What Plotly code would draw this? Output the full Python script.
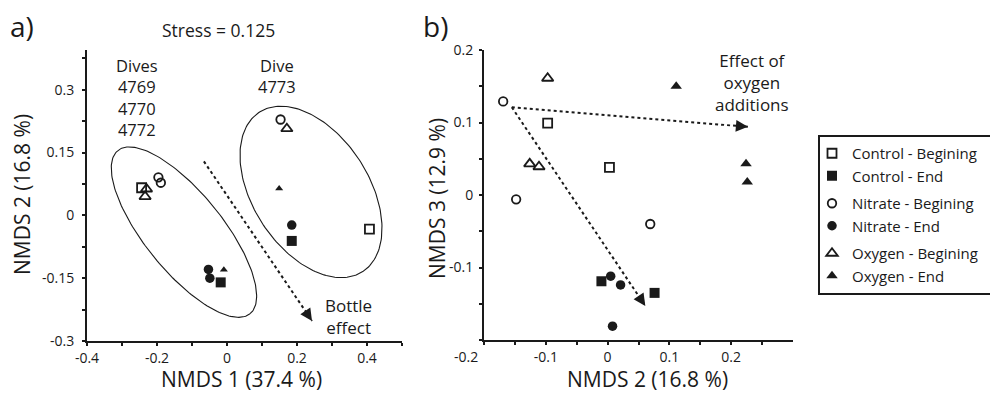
import numpy as np
import plotly.graph_objects as go

W, H = 990, 394
FONT = "Open Sans"
INK = "#1a1a1a"

# ---------------- data ----------------
series_names = ["Control - Begining", "Control - End", "Nitrate - Begining",
                "Nitrate - End", "Oxygen - Begining", "Oxygen - End"]
groups = ["control", "control", "nitrate", "nitrate", "oxygen", "oxygen"]

# Panel a : NMDS 1 (x) vs NMDS 2 (y)
a_ctrl_beg_x = [-0.244, 0.407]
a_ctrl_beg_y = [0.066, -0.033]
a_ctrl_end_x = [-0.018, 0.185]
a_ctrl_end_y = [-0.160, -0.061]
a_nit_beg_x = [-0.196, -0.189, 0.153]
a_nit_beg_y = [0.091, 0.078, 0.229]
a_nit_end_x = [-0.053, -0.049, 0.185]
a_nit_end_y = [-0.129, -0.150, -0.023]
a_oxy_beg_x = [-0.230, -0.234, 0.171]
a_oxy_beg_y = [0.063, 0.045, 0.207]
a_oxy_end_x = [-0.009, 0.149]
a_oxy_end_y = [-0.130, 0.064]

# Panel b : NMDS 2 (x) vs NMDS 3 (y)
b_ctrl_beg_x = [-0.097, 0.003]
b_ctrl_beg_y = [0.099, 0.038]
b_ctrl_end_x = [-0.010, 0.076]
b_ctrl_end_y = [-0.119, -0.135]
b_nit_beg_x = [-0.169, -0.148, 0.069]
b_nit_beg_y = [0.129, -0.006, -0.040]
b_nit_end_x = [0.005, 0.021, 0.008]
b_nit_end_y = [-0.112, -0.124, -0.181]
b_oxy_beg_x = [-0.097, -0.126, -0.111]
b_oxy_beg_y = [0.161, 0.043, 0.039]
b_oxy_end_x = [0.111, 0.224, 0.226]
b_oxy_end_y = [0.150, 0.043, 0.018]

# Arrows (tail, head) in data units
a_arrow_x = [-0.066, 0.243]
a_arrow_y = [0.129, -0.252]
b_arrow1_x = [-0.155, 0.227]
b_arrow1_y = [0.121, 0.094]
b_arrow2_x = [-0.155, 0.061]
b_arrow2_y = [0.121, -0.153]

# Ellipses: centre (data), semi-axes (px), tilt (deg, clockwise on screen)
ell_left = dict(cx=-0.123, cy=-0.040, a=105, b=39, ang=51)
ell_right = dict(cx=0.240, cy=0.056, a=95, b=58, ang=57)

# Axis ticks
a_x_ticks = [-0.4, -0.3, -0.2, -0.1, 0.0, 0.1, 0.2, 0.3, 0.4, 0.5]
a_x_text = ["-0.4", "", "-0.2", "", "0", "", "0.2", "", "0.4", ""]
a_y_ticks = [-0.3, -0.225, -0.15, -0.075, 0.0, 0.075, 0.15, 0.225, 0.3, 0.375]
a_y_text = ["-0.3", "", "-0.15", "", "0", "", "0.15", "", "0.3", ""]
b_x_ticks = [-0.2, -0.15, -0.1, -0.05, 0.0, 0.05, 0.1, 0.15, 0.2, 0.25]
b_x_text = ["", "", "-0.1", "", "0", "", "0.1", "", "0.2", ""]
b_y_ticks = [-0.2, -0.15, -0.1, -0.05, 0.0, 0.05, 0.1, 0.15, 0.2]
b_y_text = ["", "", "-0.1", "", "0", "", "0.1", "", "0.2"]

# ---------------- geometry ----------------
A_X = (87, 402); A_Y = (50, 341)
B_X = (484, 793); B_Y = (50, 340)
A_XR = [-0.4, 0.5]; A_YR = [-0.3, 0.395]
B_XR = [-0.2, 0.3]; B_YR = [-0.2, 0.2]

def px(x):
    return x / W

def py(y):
    return 1 - y / H

ppu_ax = (A_X[1] - A_X[0]) / (A_XR[1] - A_XR[0])
ppu_ay = (A_Y[1] - A_Y[0]) / (A_YR[1] - A_YR[0])
ppu_bx = (B_X[1] - B_X[0]) / (B_XR[1] - B_XR[0])
ppu_by = (B_Y[1] - B_Y[0]) / (B_YR[1] - B_YR[0])

fig = go.Figure()

styles = [
    dict(symbol="square-open", size=9, line=dict(width=1.8, color=INK), color=INK),
    dict(symbol="square", size=10, color=INK),
    dict(symbol="circle-open", size=8.5, line=dict(width=1.8, color=INK), color=INK),
    dict(symbol="circle", size=9.5, color=INK),
    dict(symbol="triangle-up-open", size=10, line=dict(width=1.8, color=INK), color=INK),
    dict(symbol="triangle-up", size=10, color=INK),
]

a_sets = [(a_ctrl_beg_x, a_ctrl_beg_y), (a_ctrl_end_x, a_ctrl_end_y),
          (a_nit_beg_x, a_nit_beg_y), (a_nit_end_x, a_nit_end_y),
          (a_oxy_beg_x, a_oxy_beg_y), (a_oxy_end_x, a_oxy_end_y)]
b_sets = [(b_ctrl_beg_x, b_ctrl_beg_y), (b_ctrl_end_x, b_ctrl_end_y),
          (b_nit_beg_x, b_nit_beg_y), (b_nit_end_x, b_nit_end_y),
          (b_oxy_beg_x, b_oxy_beg_y), (b_oxy_end_x, b_oxy_end_y)]

# Ellipses (panel a)
def ellipse(e):
    t = np.linspace(0, 2 * np.pi, 200)
    th = np.radians(e["ang"])
    ex = e["a"] * np.cos(t)
    ey = e["b"] * np.sin(t)
    sx = ex * np.cos(th) - ey * np.sin(th)
    sy = ex * np.sin(th) + ey * np.cos(th)  # screen-down
    return e["cx"] + sx / ppu_ax, e["cy"] - sy / ppu_ay

for e in (ell_left, ell_right):
    ex, ey = ellipse(e)
    fig.add_trace(go.Scatter(x=ex, y=ey, mode="lines", line=dict(color=INK, width=1.1),
                             xaxis="x", yaxis="y", showlegend=False, hoverinfo="skip"))

# Dotted arrow shafts
for (xs, ys, xa, ya) in [(a_arrow_x, a_arrow_y, "x", "y"),
                         (b_arrow1_x, b_arrow1_y, "x2", "y2"),
                         (b_arrow2_x, b_arrow2_y, "x2", "y2")]:
    fig.add_trace(go.Scatter(x=xs, y=ys, mode="lines",
                             line=dict(color=INK, width=2, dash="dot"),
                             xaxis=xa, yaxis=ya, showlegend=False, hoverinfo="skip"))

for i, (xs, ys) in enumerate(a_sets):
    st = dict(styles[i])
    if i == 5:
        st["size"] = 7
    fig.add_trace(go.Scatter(x=xs, y=ys, mode="markers", marker=st, name=series_names[i],
                             legendgroup=groups[i], showlegend=False, xaxis="x", yaxis="y"))
for i, (xs, ys) in enumerate(b_sets):
    fig.add_trace(go.Scatter(x=xs, y=ys, mode="markers", marker=styles[i], name=series_names[i],
                             legendgroup=groups[i], showlegend=True, xaxis="x2", yaxis="y2"))

# Arrow heads via annotations
annotations = []
for (xs, ys, xr, yr, sx, sy) in [(a_arrow_x, a_arrow_y, "x", "y", ppu_ax, ppu_ay),
                                 (b_arrow1_x, b_arrow1_y, "x2", "y2", ppu_bx, ppu_by),
                                 (b_arrow2_x, b_arrow2_y, "x2", "y2", ppu_bx, ppu_by)]:
    dx = (xs[1] - xs[0]) * sx
    dy = -(ys[1] - ys[0]) * sy
    L = np.hypot(dx, dy)
    ux, uy = dx / L, dy / L
    annotations.append(dict(x=xs[1], y=ys[1], xref=xr, yref=yr, ax=-13 * ux, ay=-13 * uy,
                            showarrow=True, arrowhead=2, arrowsize=1.2, arrowwidth=2,
                            arrowcolor=INK, text=""))

def txt(t, x, y, size, xanchor="center", yanchor="middle", align="center", angle=0, pad=1):
    return dict(text=t, x=px(x), y=py(y), xref="paper", yref="paper", showarrow=False,
                xanchor=xanchor, yanchor=yanchor, align=align, textangle=angle, borderpad=pad,
                font=dict(family=FONT, size=size, color=INK))

annotations += [
    txt("a)", 22, 26, 28),
    txt("b)", 435, 26, 28),
    txt("Stress = 0.125", 218, 30, 17.5),
    txt("Dives<br>4769<br>4770<br>4772", 137, 98, 16.5),
    txt("Dive<br>4773", 277, 76, 16.5),
    txt("Bottle<br>effect", 348, 316, 17),
    txt("Effect of<br>oxygen<br>additions", 752, 82, 17),
    txt("-0.2", 466, 356, 14),
    # axis titles
    txt("NMDS 1 (37.4 %)", 241, 394, 21, yanchor="bottom", pad=0),
    txt("NMDS 2 (16.8 %)", 647, 394, 21, yanchor="bottom", pad=0),
    txt("NMDS 2 (16.8 %)", 22, 195, 21, angle=-90, pad=0),
    txt("NMDS 3 (12.9 %)", 437, 199, 21, angle=-90, pad=0),
]

axis_common = dict(showline=True, linecolor=INK, linewidth=2, ticks="outside", ticklen=3,
                   tickwidth=1.5, tickcolor=INK, showgrid=False, zeroline=False,
                   tickfont=dict(family=FONT, size=14, color=INK), tickmode="array",
                   ticklabelstandoff=0, fixedrange=True, automargin=False)

fig.update_layout(
    width=W, height=H, margin=dict(l=0, r=0, t=0, b=0, pad=0, autoexpand=False),
    paper_bgcolor="white", plot_bgcolor="white",
    font=dict(family=FONT, color=INK),
    xaxis=dict(axis_common, domain=[px(A_X[0]), px(A_X[1])], range=A_XR, anchor="y",
               tickvals=a_x_ticks, ticktext=a_x_text),
    yaxis=dict(axis_common, domain=[py(A_Y[1]), py(A_Y[0])], range=A_YR, anchor="x",
               ticklabelstandoff=5, tickvals=a_y_ticks, ticktext=a_y_text),
    xaxis2=dict(axis_common, domain=[px(B_X[0]), px(B_X[1])], range=B_XR, anchor="y2",
                tickvals=b_x_ticks, ticktext=b_x_text),
    yaxis2=dict(axis_common, domain=[py(B_Y[1]), py(B_Y[0])], range=B_YR, anchor="x2",
                ticklabelstandoff=3, tickvals=b_y_ticks, ticktext=b_y_text),
    legend=dict(x=px(812), y=py(137), xanchor="left", yanchor="top",
                font=dict(family=FONT, size=15, color=INK), traceorder="grouped",
                tracegroupgap=5, bgcolor="rgba(0,0,0,0)", borderwidth=0),
    shapes=[dict(type="rect", xref="paper", yref="paper", x0=px(819), x1=px(993),
                 y0=py(294), y1=py(136), line=dict(color=INK, width=2))],
    annotations=annotations,
)

fig.write_html("out.html", config={"displayModeBar": False},
               post_script="document.body.style.margin='0';document.body.style.overflow='hidden';")
